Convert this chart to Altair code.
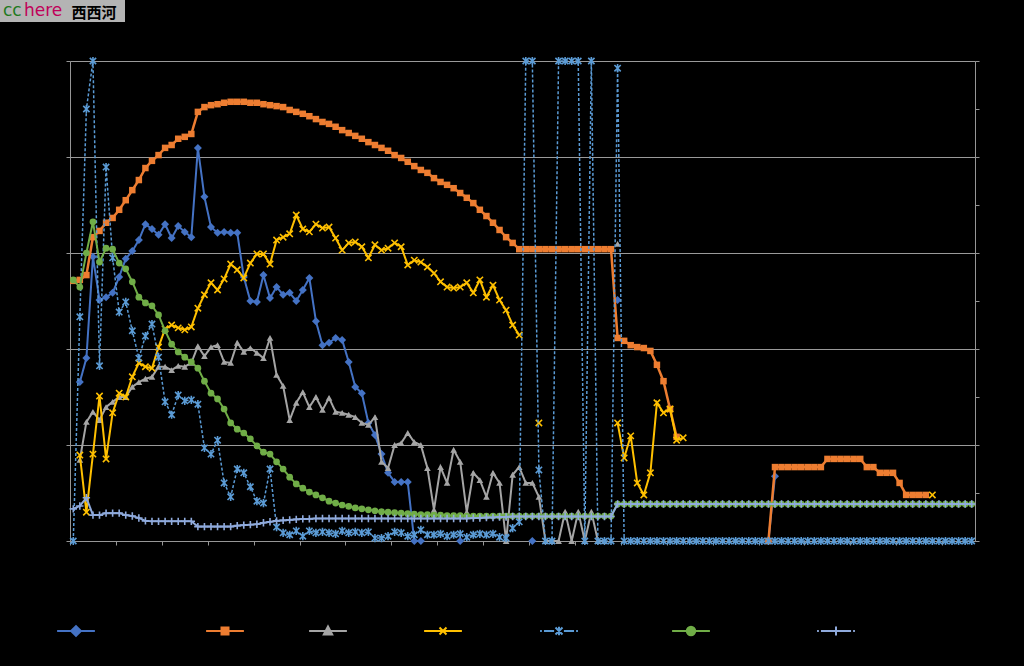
import altair as alt
import pandas as pd

N = 138
series_names = ["Series 1", "Series 2", "Series 3", "Series 4", "Series 5", "Series 6", "Series 7"]
series_colors = ["#4472C4", "#ED7D31", "#A5A5A5", "#FFC000", "#5B9BD5", "#70AD47", "#8FAADC"]

_ = None
s1 = [_, 33.1, 38.1, 59.2, 50.2, 50.8, 51.7, 55.0, 58.8, 60.4,
      62.7, 66.0, 65.0, 63.8, 66.0, 63.1, 65.6, 64.4, 63.3, 81.9,
      71.7, 65.4, 64.2, 64.4, 64.2, 64.2, 55.0, 50.0, 49.8, 55.4,
      50.6, 52.9, 51.3, 51.7, 50.0, 52.3, 54.8, 45.8, 40.8, 41.3,
      42.3, 41.9, 37.3, 32.1, 30.8, 24.6, 22.1, 18.1, 14.2, 12.3,
      12.3, 12.3, 0, 0, _, _, _, _, _, 0,
      _, _, _, _, _, _, _, _, _, _,
      0, _, _, _, _, _, _, _, _, _,
      _, _, _, 50.2, _, _, _, _, _, _,
      _, _, _, _, _, _, _, _, _, _,
      _, _, _, _, _, _, 0, 13.5, _, _,
      _, _, _, _, _, _, _, _, _, _,
      _, _, _, _, _, _, _, _, _, _,
      _, _, _, _, _, _, _, _]
s2 = [54.2, 54.4, 55.4, 63.3, 64.6, 66.3, 67.3, 69.0, 71.0, 73.1,
      75.2, 77.7, 79.2, 80.4, 81.9, 82.5, 83.8, 84.2, 84.8, 89.4,
      90.4, 90.8, 91.0, 91.3, 91.5, 91.5, 91.5, 91.3, 91.3, 91.0,
      90.8, 90.6, 90.4, 89.8, 89.4, 89.0, 88.5, 87.9, 87.3, 86.9,
      86.3, 85.6, 85.0, 84.4, 83.8, 83.1, 82.5, 81.9, 81.3, 80.4,
      79.8, 79.0, 78.1, 77.3, 76.7, 75.6, 74.8, 74.2, 73.5, 72.5,
      71.5, 70.4, 69.0, 67.7, 66.3, 64.8, 63.3, 62.1, 60.8, 60.8,
      60.8, 60.8, 60.8, 60.8, 60.8, 60.8, 60.8, 60.8, 60.8, 60.8,
      60.8, 60.8, 60.8, 42.3, 41.7, 40.8, 40.4, 40.2, 39.6, 36.7,
      33.3, 27.5, 21.7, _, _, _, _, _, _, _,
      _, _, _, _, _, _, 0, 15.4, 15.4, 15.4,
      15.4, 15.4, 15.4, 15.4, 15.4, 17.1, 17.1, 17.1, 17.1, 17.1,
      17.1, 15.4, 15.4, 14.2, 14.2, 14.2, 12.1, 9.6, 9.6, 9.6,
      9.6, _, _, _, _, _, _, _]
s3 = [_, 16.9, 24.8, 26.9, 25.2, 27.9, 29.0, 30.0, 30.0, 32.1,
      33.1, 33.8, 34.2, 36.3, 36.3, 35.6, 36.5, 36.3, 37.1, 40.6,
      38.5, 40.4, 40.8, 37.3, 37.1, 41.3, 39.4, 40.2, 39.2, 38.1,
      42.3, 34.6, 32.3, 25.2, 28.8, 31.0, 27.9, 30.0, 27.3, 29.8,
      26.9, 26.7, 26.3, 25.8, 24.6, 24.2, 25.8, 16.5, 15.2, 20.0,
      20.4, 22.5, 20.6, 20.0, 15.2, 6.5, 15.4, 12.1, 19.0, 16.5,
      6.0, 14.2, 12.7, 9.2, 14.2, 12.1, 0, 13.8, 15.4, 12.1,
      12.1, 9.2, 0, 0, 0, 6.1, 0, 6.1, 0, 6.1,
      0, 0, _, 61.9, _, _, _, _, _, _,
      _, _, _, _, _, _, _, _, _, _,
      _, _, _, _, _, _, _, _, _, _,
      _, _, _, _, _, _, _, _, _, _,
      _, _, _, _, _, _, _, _, _, _,
      _, _, _, _, _, _, _, _]
s4 = [_, 17.9, 6.0, 18.1, 30.2, 17.1, 26.7, 30.8, 30.0, 34.2,
      37.1, 36.3, 36.0, 40.4, 44.2, 45.0, 44.4, 44.0, 44.6, 48.5,
      51.3, 53.8, 52.3, 54.6, 57.7, 56.5, 54.8, 57.9, 59.8, 59.8,
      57.7, 62.7, 63.3, 64.0, 67.9, 65.0, 64.4, 66.0, 65.2, 65.4,
      63.1, 60.6, 62.1, 62.3, 61.3, 59.0, 61.7, 60.6, 61.0, 62.1,
      61.3, 57.5, 58.5, 58.1, 57.1, 55.8, 54.0, 52.9, 52.7, 52.9,
      53.8, 51.7, 54.4, 50.8, 53.3, 50.2, 48.1, 45.0, 42.9, _,
      _, 24.6, _, _, _, _, _, _, _, _,
      _, _, _, 24.6, 17.3, 21.9, 12.1, 9.6, 14.2, 28.8,
      26.7, 27.5, 21.0, 21.5, _, _, _, _, _, _,
      _, _, _, _, _, _, _, _, _, _,
      _, _, _, _, _, _, _, _, _, _,
      _, _, _, _, _, _, _, _, _, _,
      _, 9.6, _, _, _, _, _, _]
s5 = [0, 46.7, 90.0, 100, 36.5, 77.9, 59.0, 47.7, 49.8, 43.8,
      38.1, 42.7, 45.2, 38.3, 29.0, 26.3, 30.4, 29.2, 29.4, 28.5,
      19.4, 18.1, 21.0, 12.1, 9.2, 15.0, 14.2, 11.3, 8.3, 7.9,
      15.0, 2.9, 1.7, 1.3, 2.1, 1.0, 2.1, 1.7, 1.9, 1.7,
      1.5, 2.1, 1.7, 1.9, 1.7, 1.9, 0.6, 0.6, 1.0, 1.9,
      1.7, 1.0, 1.3, 2.3, 1.3, 1.3, 1.5, 1.0, 1.3, 1.5,
      0.8, 1.3, 1.5, 1.3, 1.5, 0.8, 0.6, 2.7, 4.0, 100,
      100, 14.8, 0, 0, 100, 100, 100, 100, 0, 100,
      0, 0, 0, 98.5, 0, 0, 0, 0, 0, 0,
      0, 0, 0, 0, 0, 0, 0, 0, 0, 0,
      0, 0, 0, 0, 0, 0, 0, 0, 0, 0,
      0, 0, 0, 0, 0, 0, 0, 0, 0, 0,
      0, 0, 0, 0, 0, 0, 0, 0, 0, 0,
      0, 0, 0, 0, 0, 0, 0, 0]
s6 = [54.4, 52.9, 60.0, 66.5, 58.1, 61.0, 60.8, 57.9, 56.7, 54.0,
      50.8, 49.6, 49.0, 47.1, 43.8, 41.0, 39.4, 38.3, 37.3, 36.0,
      33.3, 30.8, 29.6, 27.5, 24.6, 23.3, 22.5, 21.3, 19.8, 18.5,
      18.1, 16.5, 15.0, 13.3, 11.9, 11.0, 10.2, 9.6, 9.0, 8.3,
      7.9, 7.5, 7.2, 6.9, 6.7, 6.5, 6.3, 6.1, 6.0, 5.9,
      5.8, 5.7, 5.6, 5.5, 5.5, 5.4, 5.4, 5.3, 5.3, 5.3,
      5.2, 5.2, 5.2, 5.2, 5.2, 5.2, 5.2, 5.2, 5.2, 5.2,
      5.2, 5.2, 5.2, 5.2, 5.2, 5.2, 5.2, 5.2, 5.2, 5.2,
      5.2, 5.2, 5.2, 7.7, 7.7, 7.7, 7.7, 7.7, 7.7, 7.7,
      7.7, 7.7, 7.7, 7.7, 7.7, 7.7, 7.7, 7.7, 7.7, 7.7,
      7.7, 7.7, 7.7, 7.7, 7.7, 7.7, 7.7, 7.7, 7.7, 7.7,
      7.7, 7.7, 7.7, 7.7, 7.7, 7.7, 7.7, 7.7, 7.7, 7.7,
      7.7, 7.7, 7.7, 7.7, 7.7, 7.7, 7.7, 7.7, 7.7, 7.7,
      7.7, 7.7, 7.7, 7.7, 7.7, 7.7, 7.7, 7.7]
s7 = [6.7, 7.3, 9.0, 5.4, 5.4, 5.8, 5.8, 5.8, 5.4, 5.2,
      4.8, 4.2, 4.1, 4.1, 4.1, 4.1, 4.1, 4.1, 4.1, 3.0,
      3.0, 3.0, 3.0, 3.0, 3.0, 3.2, 3.3, 3.4, 3.5, 3.8,
      4.0, 4.2, 4.3, 4.4, 4.5, 4.6, 4.6, 4.7, 4.7, 4.7,
      4.7, 4.7, 4.7, 4.7, 4.7, 4.7, 4.7, 4.7, 4.7, 4.7,
      4.7, 4.7, 4.7, 4.7, 4.7, 4.7, 4.7, 4.7, 4.7, 4.7,
      4.7, 4.8, 4.8, 4.9, 4.9, 5.0, 5.0, 5.1, 5.1, 5.1,
      5.1, 5.1, 5.1, 5.1, 5.1, 5.1, 5.1, 5.1, 5.1, 5.1,
      5.1, 5.1, 5.1, 7.7, 7.7, 7.7, 7.7, 7.7, 7.7, 7.7,
      7.7, 7.7, 7.7, 7.7, 7.7, 7.7, 7.7, 7.7, 7.7, 7.7,
      7.7, 7.7, 7.7, 7.7, 7.7, 7.7, 7.7, 7.7, 7.7, 7.7,
      7.7, 7.7, 7.7, 7.7, 7.7, 7.7, 7.7, 7.7, 7.7, 7.7,
      7.7, 7.7, 7.7, 7.7, 7.7, 7.7, 7.7, 7.7, 7.7, 7.7,
      7.7, 7.7, 7.7, 7.7, 7.7, 7.7, 7.7, 7.7]

all_series = [s1, s2, s3, s4, s5, s6, s7]
rows = []
for name, vals in zip(series_names, all_series):
    for i, v in enumerate(vals):
        rows.append({"s": name, "x": i + 0.5, "v": v})
df = pd.DataFrame(rows)

AX = "#969696"
GRID = "#9a9a9a"

xs = alt.Scale(domain=[0, N], nice=False, zero=False)
ys = alt.Scale(domain=[0, 100], nice=False, zero=True)
x_axis = alt.Axis(values=list(range(0, N + 1, 7)), labels=False, title=None, grid=False,
                  ticks=True, tickSize=4, tickColor=AX, domainColor=AX, tickWidth=1, domainWidth=1)
y_left = alt.Axis(values=[0, 20, 40, 60, 80, 100], labels=False, title=None, grid=True,
                  gridColor=GRID, gridWidth=1.2, tickSize=4, tickColor=AX, domainColor=AX, domainWidth=1)
y_right = alt.Axis(orient="right", values=list(range(0, 101, 10)), labels=False, title=None, grid=False,
                   tickSize=4, tickColor=AX, domainColor=AX, domainWidth=1)

X = alt.X("x:Q", scale=xs, axis=x_axis)

# marker styles per series: (shape, size, filled)
X_PATH = "M-1,-1L1,1M-1,1L1,-1"
STAR_PATH = "M-1,-1L1,1M-1,1L1,-1M0,-1.3V1.3"
PLUS_PATH = "M-1.1,0H1.1M0,-1.1V1.1"
marker = [("diamond", 64, True), ("square", 42, True), ("triangle-up", 45, True),
          (X_PATH, 40, False), (STAR_PATH, 40, False), ("circle", 45, True), (PLUS_PATH, 45, False)]
dashes = [[1, 0], [1, 0], [1, 0], [1, 0], [3, 2], [1, 0], [1, 0]]
widths = [2, 2.5, 2, 2, 1.5, 2, 2]

layers = []
for k, name in enumerate(series_names):
    col = series_colors[k]
    base = alt.Chart(df).transform_filter(alt.datum.s == name)
    ya = y_left if k == 0 else None
    line = base.mark_line(color=col, strokeWidth=widths[k], strokeDash=dashes[k],
                          invalid="break-paths-show-domains").encode(
        x=X, y=alt.Y("v:Q", scale=ys, axis=ya))
    shp, size, filled = marker[k]
    yb = y_right if k == 0 else None
    if filled:
        pts = base.mark_point(shape=shp, size=size, filled=True, color=col, opacity=1)
    else:
        pts = base.mark_point(shape=shp, size=size, filled=False, color=col, opacity=1, strokeWidth=1.6)
    pts = pts.encode(x=X, y=alt.Y("v:Q", scale=ys, axis=yb))
    layers += [line, pts]

# legend symbols: line segment + marker (path units = 3.5 px at size 49)
legend_paths = [
    "M-5.4,0H5.4M-1.4,0L0,-1.4L1.4,0L0,1.4Z",
    "M-5.4,0H5.4M-1,-1H1V1H-1Z",
    "M-5.4,0H5.4M0,-1.3L1.2,1H-1.2Z",
    "M-5.4,0H5.4M-1,-1L1,1M-1,1L1,-1",
    "M-5.4,0H-4.9M-4.3,0H-1.4M1.4,0H4.3M4.9,0H5.4M-1,-1L1,1M-1,1L1,-1M0,-1.2V1.2",
    "M-5.4,0H5.4M-1.2,0A1.2,1.2,0,1,1,1.2,0A1.2,1.2,0,1,1,-1.2,0Z",
    "M-5.4,0H-4.9M-4.3,0H4.3M4.9,0H5.4M0,-1.3V1.3",
]
# horizontal placement of each legend entry (layout, px from plot origin)
legend_x = [1, 150, 253, 368, 484, 616, 761]
for k, name in enumerate(series_names):
    leg = alt.Legend(orient="none", legendX=legend_x[k], legendY=565, direction="horizontal",
                     symbolSize=49, symbolStrokeWidth=2, labelExpr="''", title=None,
                     padding=0, labelOffset=0, symbolOpacity=1)
    ldf = pd.DataFrame({"s": [name], "x": [None], "v": [None]})
    legend_layer = alt.Chart(ldf).mark_point(filled=True, opacity=1, size=49).encode(
        x=X, y=alt.Y("v:Q", scale=ys, axis=None),
        shape=alt.Shape("s:N", scale=alt.Scale(domain=[name], range=[legend_paths[k]]), legend=leg),
        fill=alt.Fill("s:N", scale=alt.Scale(domain=[name], range=[series_colors[k]]), legend=leg),
        stroke=alt.Stroke("s:N", scale=alt.Scale(domain=[name], range=[series_colors[k]]), legend=leg),
    )
    layers.append(legend_layer)

# watermark badge
one = pd.DataFrame({"a": [0]})
badge = alt.Chart(one).mark_rect(color="#b4b4b4").encode(
    x=alt.value(-70), x2=alt.value(55), y=alt.value(-61), y2=alt.value(-39))
t1 = alt.Chart(one).mark_text(text="cc", color="#1f7a1f", fontSize=17, font="DejaVu Sans",
                               align="left", baseline="alphabetic").encode(x=alt.value(-67), y=alt.value(-45))
t2 = alt.Chart(one).mark_text(text="here", color="#c0005a", fontSize=17, font="DejaVu Sans",
                               align="left", baseline="alphabetic").encode(x=alt.value(-46), y=alt.value(-45))
t3 = alt.Chart(one).mark_text(text="西西河", color="#000000", fontSize=15, font="Noto Sans CJK SC",
                               fontWeight="bold", align="left", baseline="alphabetic").encode(
    x=alt.value(1.5), y=alt.value(-43.4))
layers += [badge, t1, t2, t3]

chart = alt.layer(*layers).resolve_axis(y="independent").resolve_scale(
    shape="independent", fill="independent", stroke="independent"
).properties(
    width=905, height=480,
    autosize=alt.AutoSizeParams(type="none"),
    padding={"left": 70, "top": 61, "right": 49, "bottom": 125},
).configure(background="#000000").configure_view(stroke=None)

chart.save("out.html", embed_options={"renderer": "svg", "actions": False})
